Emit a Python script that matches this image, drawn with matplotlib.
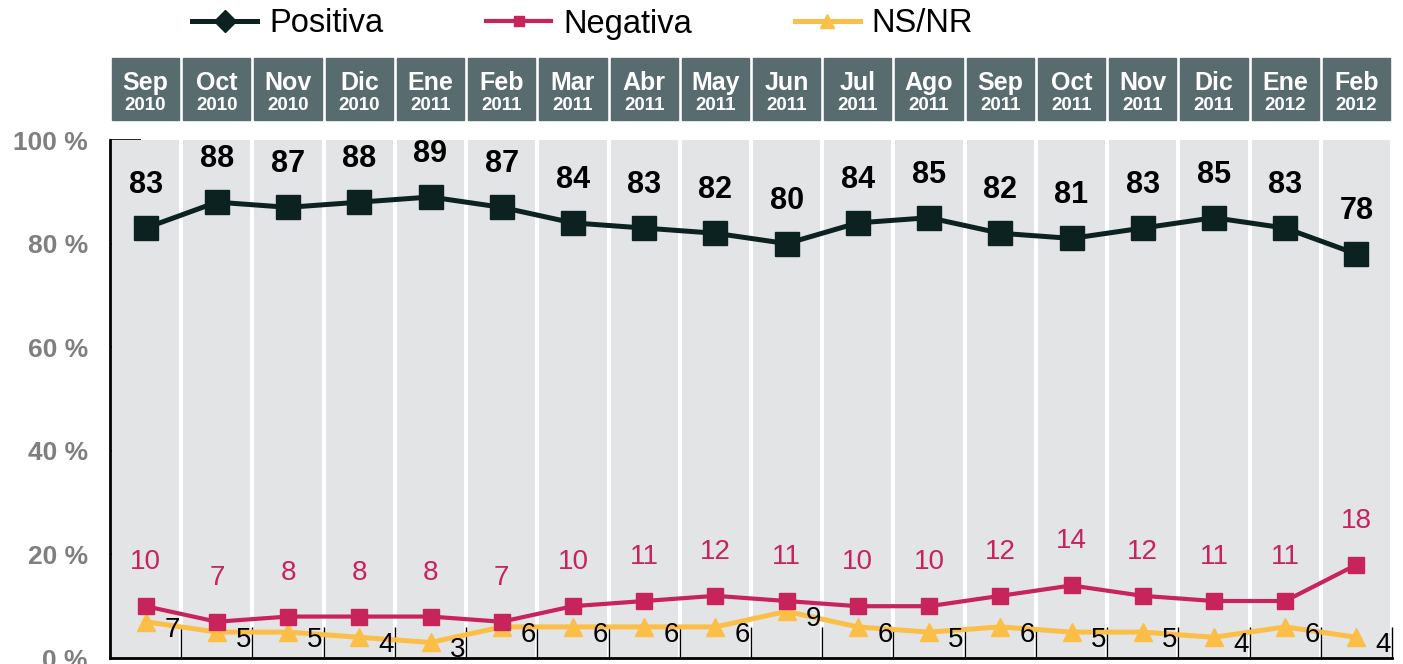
import matplotlib
matplotlib.use("Agg")
import matplotlib.pyplot as plt
from matplotlib.lines import Line2D
from matplotlib.patches import Rectangle
import numpy as np

months = ["Sep", "Oct", "Nov", "Dic", "Ene", "Feb", "Mar", "Abr", "May", "Jun",
          "Jul", "Ago", "Sep", "Oct", "Nov", "Dic", "Ene", "Feb"]
years = ["2010", "2010", "2010", "2010", "2011", "2011", "2011", "2011", "2011", "2011",
         "2011", "2011", "2011", "2011", "2011", "2011", "2012", "2012"]
positiva = [83, 88, 87, 88, 89, 87, 84, 83, 82, 80, 84, 85, 82, 81, 83, 85, 83, 78]
negativa = [10, 7, 8, 8, 8, 7, 10, 11, 12, 11, 10, 10, 12, 14, 12, 11, 11, 18]
nsnr = [7, 5, 5, 4, 3, 6, 6, 6, 6, 9, 6, 5, 6, 5, 5, 4, 6, 4]
yticks = [0, 20, 40, 60, 80, 100]
ytick_labels = ["0 %", "20 %", "40 %", "60 %", "80 %", "100 %"]

C_POS = "#0c2220"
C_NEG = "#c6245a"
C_NS = "#fbbf48"
C_HEAD = "#586b6f"
C_COL = "#e3e4e6"

FONT = ["Liberation Sans", "DejaVu Sans"]
plt.rcParams["font.family"] = FONT

W, H = 1403, 664
fig = plt.figure(figsize=(W / 100, H / 100), dpi=100)
ax = fig.add_axes([110 / W, 1 - 658 / H, (1392 - 110) / W, (658 - 140) / H])

n = len(months)
x = np.arange(n)
ax.set_xlim(-0.5, n - 0.5)
ax.set_ylim(0, 100)

# gray columns
ax.bar(x, [100.6] * n, width=0.945, color=C_COL, zorder=1)

# header boxes
for i in range(n):
    ax.add_patch(Rectangle((i - 0.4725, 103.8), 0.945, 12.0, color=C_HEAD,
                           clip_on=False, zorder=2))
    ax.text(i, 111.0, months[i], ha="center", va="center", color="white",
            fontsize=18, fontweight="bold", clip_on=False, zorder=3)
    ax.text(i, 106.7, years[i], ha="center", va="center", color="white",
            fontsize=13.5, fontweight="bold", clip_on=False, zorder=3)

# lines
ax.plot(x, nsnr, color=C_NS, lw=3.6, marker="^", ms=13, zorder=4)
ax.plot(x, negativa, color=C_NEG, lw=3.0, marker="s", ms=11, zorder=5)
ax.plot(x, positiva, color=C_POS, lw=3.6, marker="s", ms=17, zorder=6)

for i in range(n):
    ax.annotate(str(positiva[i]), (x[i], positiva[i]), xytext=(0, 43),
                textcoords="offset pixels", ha="center", va="center",
                fontsize=22, fontweight="bold", color="black", zorder=7)
    ax.annotate(str(negativa[i]), (x[i], negativa[i]), xytext=(0, 44),
                textcoords="offset pixels", ha="center", va="center",
                fontsize=20, color=C_NEG, zorder=7)
    ax.annotate(str(nsnr[i]), (x[i], nsnr[i]), xytext=(27, -8),
                textcoords="offset pixels", ha="center", va="center",
                fontsize=20, color="black", zorder=7)

# axes styling
ax.set_axisbelow(True)
for s in ["top", "right"]:
    ax.spines[s].set_visible(False)
for s in ["left", "bottom"]:
    ax.spines[s].set_color("black")
    ax.spines[s].set_linewidth(2)
    ax.spines[s].set_zorder(8)
ax.set_xticks(np.arange(n) + 0.5)
ax.set_xticklabels([])
ax.tick_params(axis="x", direction="in", length=22, width=1, color="black")
ax.set_yticks(yticks)
ax.set_yticklabels(ytick_labels)
ax.tick_params(axis="y", direction="in", length=22, width=1.2, color="black",
               pad=16, labelsize=19, labelcolor="#7f7f7f")
for lab in ax.get_yticklabels():
    lab.set_fontweight("bold")

# legend
handles = [
    Line2D([], [], color=C_POS, lw=3.6, marker="D", ms=11, label="Positiva"),
    Line2D([], [], color=C_NEG, lw=3.0, marker="s", ms=7, label="Negativa"),
    Line2D([], [], color=C_NS, lw=3.6, marker="^", ms=10, label="NS/NR"),
]
fig.legend(handles=handles, loc="center left", bbox_to_anchor=(192 / W, 1 - 24 / H),
           ncol=3, frameon=False, fontsize=23.5, handlelength=2.0, handletextpad=0.36,
           columnspacing=3.15, borderpad=0, borderaxespad=0)

fig.savefig("out.png", dpi=100)
